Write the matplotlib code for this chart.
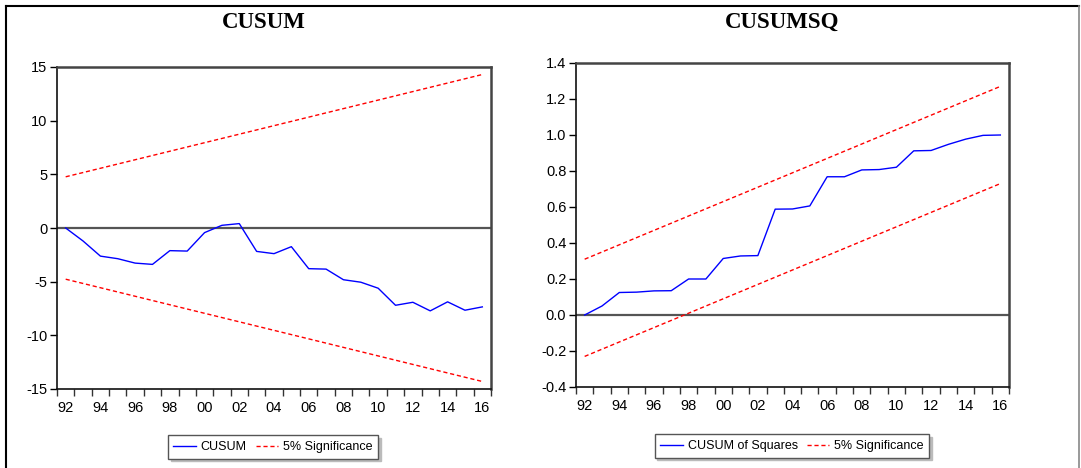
import matplotlib
matplotlib.use("Agg")
import matplotlib.pyplot as plt
from matplotlib.lines import Line2D
from matplotlib.ticker import FixedLocator, FixedFormatter

# -------------------------
# Data
# -------------------------
years = list(range(1992, 2017))

cusum = [0.0, -1.21, -2.62, -2.86, -3.27, -3.39, -2.11, -2.15, -0.43, 0.25,
         0.41, -2.18, -2.39, -1.74, -3.79, -3.83, -4.82, -5.05, -5.61, -7.20,
         -6.92, -7.72, -6.88, -7.66, -7.35]
cusum_upper = [4.77, 14.3]   # 5% band, first and last year
cusum_lower = [-4.77, -14.3]

cusumsq = [0.0, 0.05, 0.125, 0.127, 0.134, 0.135, 0.20, 0.20, 0.314, 0.328,
           0.33, 0.588, 0.589, 0.606, 0.768, 0.768, 0.806, 0.808, 0.821, 0.912,
           0.914, 0.948, 0.977, 0.998, 1.0]
cusumsq_upper = [0.31, 1.27]
cusumsq_lower = [-0.23, 0.73]

band_years = [years[0], years[-1]]
year_labels = [f"{y % 100:02d}" for y in years[::2]]

W, H = 1081, 468
fig = plt.figure(figsize=(W / 100, H / 100), dpi=100)

plt.rcParams["font.family"] = ["Liberation Sans", "DejaVu Sans"]
plt.rcParams["axes.unicode_minus"] = False
tick_fs = 10.5
title_font = dict(family=["Liberation Serif", "DejaVu Serif"], weight="bold", size=16.5)


def px_axes(x0, y0, x1, y1):
    # pixel box -> figure fraction
    return fig.add_axes([x0 / W, 1 - y1 / H, (x1 - x0) / W, (y1 - y0) / H])


def style_axes(ax):
    ax.set_xlim(1991.5, 2016.5)
    ax.xaxis.set_major_locator(FixedLocator([y - 0.5 for y in years] + [2016.5]))
    ax.xaxis.set_major_formatter(FixedFormatter([]))
    ax.xaxis.set_minor_locator(FixedLocator(years[::2]))
    ax.xaxis.set_minor_formatter(FixedFormatter(year_labels))
    ax.tick_params(axis="x", which="major", direction="out", length=5, width=1, color="#333333")
    ax.tick_params(axis="x", which="minor", length=0, pad=9, labelsize=tick_fs)
    ax.tick_params(axis="y", direction="out", length=5, width=1, labelsize=tick_fs, pad=2)
    for side in ["left", "bottom"]:
        ax.spines[side].set_color("#111111")
        ax.spines[side].set_linewidth(1.2)
    for side in ["top", "right"]:
        ax.spines[side].set_color("#444444")
        ax.spines[side].set_linewidth(1.8)
    ax.axhline(0, color="#555555", linewidth=1.6, zorder=1)


def add_legend(ax, label, cx, cy):
    handles = [Line2D([], [], color="blue", linewidth=1),
               Line2D([], [], color="red", linewidth=1, linestyle=(0, (3, 2)))]
    ax.legend(handles, [label, "5% Significance"], ncol=2, loc="center",
              bbox_to_anchor=(cx / W, 1 - cy / H), bbox_transform=fig.transFigure,
              fontsize=9, frameon=True, fancybox=False,
              edgecolor="#555555", handlelength=1.8, handletextpad=0.4,
              columnspacing=0.7, borderpad=0.45,
              shadow={"color": "#bbbbbb", "alpha": 1})


# ---- CUSUM ----
ax1 = px_axes(57, 67, 491, 389)
ax1.plot(years, cusum, color="blue", linewidth=1, zorder=3)
ax1.plot(band_years, cusum_upper, color="red", linewidth=1, linestyle=(0, (3, 2)))
ax1.plot(band_years, cusum_lower, color="red", linewidth=1, linestyle=(0, (3, 2)))
ax1.set_ylim(-15, 15)
ax1.set_yticks([-15, -10, -5, 0, 5, 10, 15])
style_axes(ax1)
add_legend(ax1, "CUSUM", 273, 447)
fig.text(264 / W, 1 - 22 / H, "CUSUM", ha="center", va="center", **title_font)

# ---- CUSUM of squares ----
ax2 = px_axes(576, 63, 1009, 387)
ax2.plot(years, cusumsq, color="blue", linewidth=1, zorder=3)
ax2.plot(band_years, cusumsq_upper, color="red", linewidth=1, linestyle=(0, (3, 2)))
ax2.plot(band_years, cusumsq_lower, color="red", linewidth=1, linestyle=(0, (3, 2)))
ax2.set_ylim(-0.4, 1.4)
ax2.set_yticks([-0.4, -0.2, 0.0, 0.2, 0.4, 0.6, 0.8, 1.0, 1.2, 1.4])
ax2.set_yticklabels([f"{v:.1f}" for v in ax2.get_yticks()])
style_axes(ax2)
add_legend(ax2, "CUSUM of Squares", 792, 446)
fig.text(782 / W, 1 - 22 / H, "CUSUMSQ", ha="center", va="center", **title_font)

# outer page frame
fig.add_artist(Line2D([6 / W, 6 / W], [0, 1 - 6 / H], color="black", linewidth=1.5))
fig.add_artist(Line2D([6 / W, 1079 / W], [1 - 6 / H, 1 - 6 / H], color="black", linewidth=1.5))
fig.add_artist(Line2D([1079 / W, 1079 / W], [0, 1 - 6 / H], color="#888888", linewidth=1.2))

fig.savefig("out.png", dpi=100)
